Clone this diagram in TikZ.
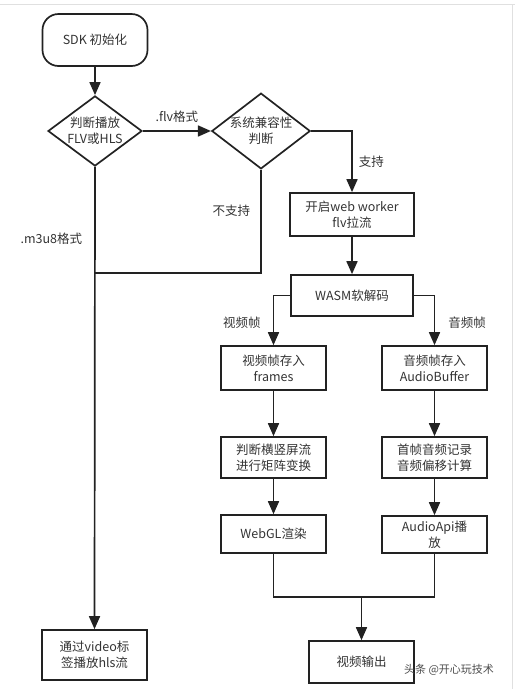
\documentclass[tikz,border=0pt]{standalone}
\usepackage{fontspec}
\setmainfont{Noto Sans CJK SC}
\usetikzlibrary{shapes.geometric,arrows.meta}
\definecolor{linegray}{HTML}{222222}
\definecolor{textgray}{HTML}{333333}

\begin{document}
\begin{tikzpicture}[x=1pt,y=-1pt,
  every node/.style={font=\fontsize{12.5}{16}\selectfont,text=textgray,align=center,inner sep=0pt},
  line/.style={draw=linegray,line width=1.7pt},
  arrow/.style={line,-{Triangle[length=13pt,width=11pt]}},
  box/.style={draw=linegray,line width=1.7pt,rectangle,minimum width=105pt},
  startbox/.style={box,rounded corners=16pt},
  decision/.style={draw=linegray,line width=1.7pt,diamond,aspect=1.3,minimum width=94pt}]
\useasboundingbox (0,0) rectangle (515,689);
\draw [black!12,line width=1pt] (0,4) -- (515,4);
\draw [black!12,line width=1pt] (512,4) -- (512,689);
\node [startbox,minimum height=52pt] (sdk) at (95,40) {SDK 初始化};
\node [decision] (fmt) at (95,131) {判断播放\\FLV或HLS};
\node [decision] (compat) at (261,131) {系统兼容性\\判断};
\node [box,minimum width=124pt,minimum height=43pt] (worker) at (352,214.5) {开启web worker\\flv拉流};
\node [box,minimum width=122pt,minimum height=41pt] (wasm) at (352,295.5) {WASM软解码};
\node [box,minimum height=44pt] (vstore) at (273.5,368) {视频帧存入\\frames};
\node [box,minimum height=44pt] (astore) at (434.5,368) {音频帧存入\\AudioBuffer};
\node [box,minimum height=41pt] (vmat) at (273.5,457.5) {判断横竖屏流\\进行矩阵变换};
\node [box,minimum height=41pt] (arec) at (434.5,457.5) {首帧音频记录\\音频偏移计算};
\node [box,minimum height=38pt] (webgl) at (273.5,534) {WebGL渲染};
\node [box,minimum height=37pt] (aplay) at (434.5,534.5) {AudioApi播\\放};
\node [box,minimum height=50pt] (hls) at (94.5,655) {通过video标\\签播放hls流};
\node [box,minimum height=42pt] (out) at (361.5,662) {视频输出};
\coordinate (join) at (95,273);
\coordinate (merge) at (361.5,597);
\draw [arrow] (sdk) -- (fmt);
\draw [arrow] (fmt.east) -- node [above=8pt] {.flv格式} (compat.west);
\draw [arrow] (compat.east) -| node [pos=0.75,right=6pt] {支持} (worker.north);
\draw [line] (compat.south) |- node [pos=0.2,left=10pt] {不支持} (join);
\draw [arrow] (fmt.south) -- node [pos=0.155,left=12pt] {.m3u8格式} (hls.north);
\draw [arrow] (worker) -- (wasm);
\draw [arrow] (wasm.west) -| node [pos=0.77,left=12pt] {视频帧} (vstore.north);
\draw [arrow] (wasm.east) -| node [pos=0.77,right=13pt] {音频帧} (astore.north);
\draw [arrow] (vstore) -- (vmat);
\draw [arrow] (vmat) -- (webgl);
\draw [arrow] (astore) -- (arec);
\draw [arrow] (arec) -- (aplay);
\draw [line] (webgl.south) |- (merge) -| (aplay.south);
\draw [arrow] (merge) -- (out);
\node [font=\fontsize{11}{13}\selectfont,text=black!70] (mark) at (449,670) {头条 @开心玩技术};
\end{tikzpicture}
\end{document}
